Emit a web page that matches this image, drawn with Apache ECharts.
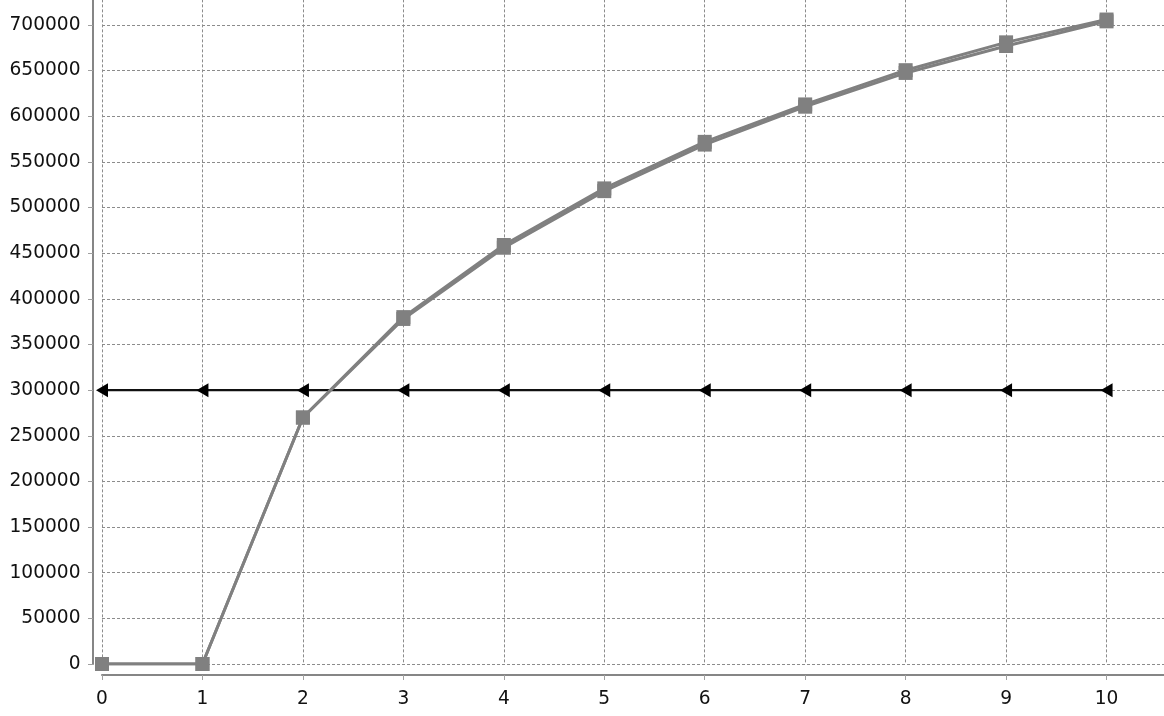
<!DOCTYPE html>
<html><head><meta charset="utf-8">
<script src="https://cdn.jsdelivr.net/npm/echarts@6/dist/echarts.min.js"></script>
<style>html,body{margin:0;padding:0;background:#fff;overflow:hidden;width:1164px;height:716px}#c{position:absolute;left:0;top:-21px;width:1207px;height:737px}</style>
</head><body><div id="c"></div>
<script>
const xValues = [0, 1, 2, 3, 4, 5, 6, 7, 8, 9, 10];
const growthA = [0, 0, 270000, 378000, 456000, 518000, 569000, 610500, 647500, 677000, 704000];
const growthB = [0, 0, 270000, 380000, 459000, 521000, 572000, 613000, 650500, 681000, 706000];
const baseline = [300000, 300000, 300000, 300000, 300000, 300000, 300000, 300000, 300000, 300000, 300000];

const pairs = arr => xValues.map((x, i) => [x, arr[i]]);
const font = 'DejaVu Sans';
const gridLine = { show: true, lineStyle: { color: '#8c8c8c', width: 1, type: [3, 2] } };

const chart = echarts.init(document.getElementById('c'), null, { renderer: 'canvas' });
chart.setOption({
  animation: false,
  backgroundColor: '#ffffff',
  grid: { left: 102, right: 0, top: 0.36, bottom: 52, containLabel: false },
  xAxis: {
    type: 'value', min: 0, max: 11, interval: 1, offset: 11,
    axisLine: { show: true, onZero: false, lineStyle: { color: '#868686', width: 2 } },
    axisTick: { show: true, length: 5, lineStyle: { color: '#a0a0a0', width: 1 } },
    axisLabel: { fontFamily: font, fontSize: 18.6, color: '#111', margin: 15, showMaxLabel: false,
      formatter: v => String(v) },
    splitLine: gridLine
  },
  yAxis: {
    type: 'value', min: 0, max: 750000, interval: 50000, offset: 9,
    axisLine: { show: true, onZero: false, lineStyle: { color: '#868686', width: 2 } },
    axisTick: { show: true, length: 5, lineStyle: { color: '#a0a0a0', width: 1 } },
    axisLabel: { fontFamily: font, fontSize: 18.6, color: '#111', margin: 12.5, showMaxLabel: false,
      formatter: v => String(v) },
    splitLine: gridLine
  },
  series: [
    {
      type: 'line', data: pairs(baseline), symbol: 'triangle', symbolSize: [14, 12], symbolRotate: 90,
      lineStyle: { color: '#111', width: 2.2 }, itemStyle: { color: '#000' }, z: 2
    },
    {
      type: 'line', data: pairs(growthA), symbol: 'rect', symbolSize: 14,
      lineStyle: { color: '#808080', width: 3 }, itemStyle: { color: '#808080' }, z: 3
    },
    {
      type: 'line', data: pairs(growthB), symbol: 'rect', symbolSize: 14,
      lineStyle: { color: '#808080', width: 3 }, itemStyle: { color: '#808080' }, z: 3
    }
  ]
});
</script></body></html>
